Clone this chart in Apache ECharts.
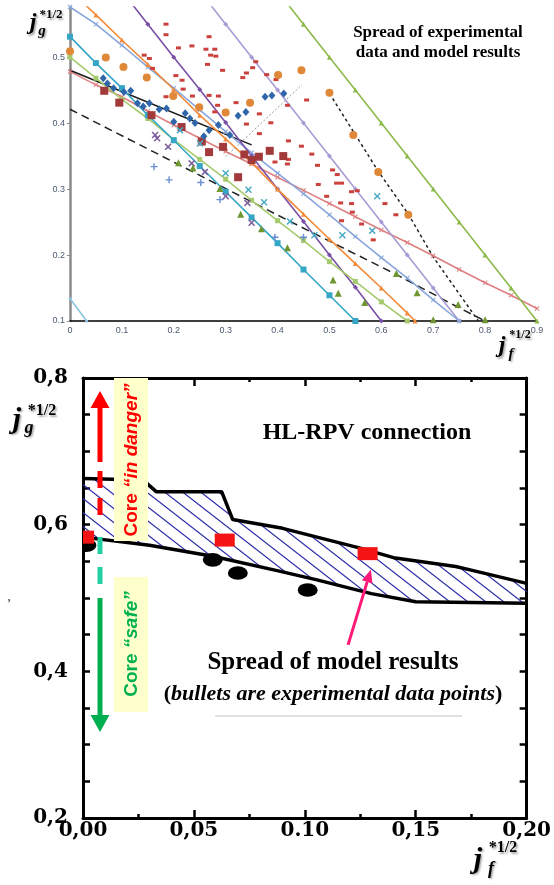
<!DOCTYPE html>
<html><head><meta charset="utf-8">
<style>html,body{margin:0;padding:0;background:#fff}#c{width:554px;height:885px}</style>
<script src="https://cdn.jsdelivr.net/npm/echarts@6/dist/echarts.min.js"></script>
</head><body><div id="c"></div>
<script>
// ---------- TOP CHART DATA ----------
const topXLabels = ['0','0.1','0.2','0.3','0.4','0.5','0.6','0.7','0.8','0.9'];
const topYTicks = [0.1,0.2,0.3,0.4,0.5];
const topYLabels = ['0.1','0.2','0.3','0.4','0.5'];

const tealSquares = [[0,0.531],[0.05,0.491],[0.1,0.453],[0.15,0.412],[0.2,0.374],[0.25,0.335],[0.3,0.296],[0.35,0.257],[0.4,0.218],[0.45,0.178],[0.5,0.139],[0.55,0.100]];
const lightGreenLine = [[0,0.500],[0.05,0.468],[0.1,0.436],[0.15,0.407],[0.2,0.375],[0.25,0.345],[0.3,0.315],[0.35,0.283],[0.4,0.252],[0.45,0.222],[0.5,0.190],[0.55,0.160],[0.6,0.129],[0.65,0.100]];
const orangeLine = [[0,0.601],[0.05,0.564],[0.1,0.526],[0.15,0.489],[0.2,0.451],[0.25,0.412],[0.3,0.376],[0.35,0.340],[0.4,0.300],[0.45,0.262],[0.5,0.224],[0.55,0.187],[0.6,0.150],[0.65,0.112],[0.665,0.100]];
const periwinkleLine = [[0,0.576],[0.05,0.550],[0.1,0.518],[0.15,0.485],[0.2,0.453],[0.25,0.420],[0.3,0.387],[0.35,0.355],[0.4,0.324],[0.45,0.293],[0.5,0.261],[0.55,0.228],[0.6,0.196],[0.65,0.165],[0.7,0.132],[0.75,0.100]];
const purpleLine = [[0.1,0.600],[0.15,0.550],[0.2,0.500],[0.25,0.451],[0.3,0.401],[0.35,0.350],[0.4,0.300],[0.45,0.251],[0.5,0.200],[0.55,0.151],[0.6,0.100]];
const lavenderLine = [[0.25,0.600],[0.3,0.550],[0.35,0.500],[0.4,0.450],[0.45,0.400],[0.5,0.350],[0.55,0.300],[0.6,0.250],[0.65,0.200],[0.7,0.150],[0.75,0.100]];
const greenLine = [[0.4,0.600],[0.45,0.550],[0.5,0.500],[0.55,0.450],[0.6,0.400],[0.65,0.350],[0.7,0.300],[0.75,0.250],[0.8,0.200],[0.85,0.150],[0.9,0.100]];
const pinkLine = [[0,0.478],[0.05,0.458],[0.1,0.440],[0.15,0.418],[0.2,0.397],[0.25,0.377],[0.3,0.357],[0.35,0.338],[0.4,0.318],[0.45,0.298],[0.5,0.278],[0.55,0.258],[0.6,0.238],[0.65,0.219],[0.7,0.199],[0.75,0.178],[0.8,0.158],[0.85,0.139],[0.9,0.119]];
const smallBlueLine = [[0,0.134],[0.032,0.100]];
const blackLine = [[0,0.480],[0.35,0.367]];
const blackDashed = [[0,0.421],[0.424,0.251],[0.63,0.170],[0.745,0.122],[0.80,0.100]];
const blackDotted = [[0.5,0.445],[0.594,0.327],[0.652,0.262],[0.70,0.197],[0.787,0.100]];
const grayDotted = [[0.30,0.349],[0.447,0.458]];

const orangeCircles = [[0,0.509],[0.069,0.4995],[0.103,0.485],[0.148,0.469],[0.199,0.441],[0.249,0.424],[0.3,0.416],[0.347,0.431],[0.401,0.473],[0.446,0.480],[0.5,0.446],[0.546,0.382],[0.594,0.326],[0.652,0.261]];
const blueDiamonds = [[0.064,0.468],[0.072,0.460],[0.084,0.453],[0.104,0.447],[0.117,0.449],[0.130,0.430],[0.141,0.425],[0.153,0.430],[0.172,0.421],[0.186,0.422],[0.200,0.402],[0.222,0.415],[0.231,0.407],[0.241,0.400],[0.258,0.380],[0.268,0.389],[0.286,0.397],[0.308,0.382],[0.324,0.411],[0.339,0.417],[0.376,0.440],[0.389,0.442],[0.412,0.445]];
const darkRedSquares = [[0.066,0.449],[0.095,0.431],[0.157,0.412],[0.215,0.394],[0.254,0.372],[0.268,0.356],[0.295,0.364],[0.336,0.3525],[0.35,0.344],[0.364,0.349],[0.385,0.358],[0.411,0.350],[0.324,0.318]];
const redDashes = [[0.185,0.550],[0.185,0.534],[0.143,0.503],[0.153,0.498],[0.209,0.514],[0.235,0.517],[0.268,0.531],[0.262,0.512],[0.279,0.512],[0.271,0.503],[0.281,0.5015],[0.265,0.489],[0.358,0.493],[0.352,0.484],[0.159,0.483],
  [0.204,0.472],[0.216,0.465],[0.218,0.4515],[0.236,0.441],[0.185,0.440],[0.268,0.442],[0.286,0.441],[0.2845,0.427],[0.320,0.431],[0.294,0.480],[0.340,0.476],[0.333,0.469],[0.379,0.4735],[0.397,0.466],[0.279,0.417],[0.340,0.3985],[0.365,0.414],[0.387,0.4005],[0.365,0.384],[0.419,0.427],[0.456,0.435],[0.421,0.373],[0.446,0.365],[0.466,0.353],[0.419,0.338],[0.421,0.345],[0.395,0.341],[0.477,0.336],[0.506,0.329],[0.515,0.322],
  [0.4785,0.307],[0.4946,0.289],[0.5138,0.309],[0.5234,0.309],[0.5427,0.296],[0.5536,0.2975],[0.5216,0.279],[0.5427,0.278],[0.607,0.278],[0.628,0.261],[0.5234,0.252],[0.562,0.247],[0.5844,0.223],[0.544,0.265]];
const purpleCrosses = [[0.164,0.382],[0.168,0.377],[0.189,0.364],[0.2345,0.339],[0.26,0.326],[0.30,0.289],[0.342,0.279],[0.35,0.249]];
const tealCrosses = [[0.212,0.389],[0.2505,0.369],[0.30,0.324],[0.344,0.299],[0.374,0.280],[0.424,0.251],[0.471,0.230],[0.525,0.230],[0.5825,0.237],[0.592,0.289]];
const bluePluses = [[0.162,0.334],[0.191,0.314],[0.252,0.310],[0.289,0.284],[0.395,0.227],[0.45,0.227]];
const greenTriangles = [[0.209,0.340],[0.237,0.332],[0.289,0.301],[0.329,0.262],[0.369,0.240],[0.419,0.211],[0.507,0.162],[0.517,0.142],[0.568,0.128],[0.629,0.172],[0.669,0.143],[0.748,0.125],[0.70,0.102],[0.80,0.102]];

// ---------- BOTTOM CHART DATA ----------
const bottomXLabels = ['0,00','0,05','0.10','0,15','0,20'];
const bottomYLabelValues = [0.2,0.4,0.6,0.8];
const bottomYLabels = ['0,2','0,4','0,6','0,8'];
const hatchUpper = [[0,0.663],[0.027,0.661],[0.033,0.645],[0.0625,0.645],[0.0675,0.607],[0.09,0.595],[0.125,0.568],[0.14,0.555],[0.168,0.543],[0.175,0.538],[0.2,0.520]];
const hatchLower = [[0,0.583],[0.03,0.572],[0.0585,0.557],[0.088,0.537],[0.105,0.525],[0.13,0.506],[0.15,0.495],[0.2,0.493]];
const modelSquares = [[0.0005,0.583],[0.0639,0.579],[0.1283,0.5605]];
const expBullets = [[0.0015,0.572],[0.0585,0.552],[0.0698,0.534],[0.1013,0.511]];
const pinkArrow = [[0.1195,0.436],[0.1298,0.539]];

// ---------- helpers ----------
const X_PATH = 'path://M0,1.5 L1.5,0 L5,3.5 L8.5,0 L10,1.5 L6.5,5 L10,8.5 L8.5,10 L5,6.5 L1.5,10 L0,8.5 L3.5,5 Z';
const PLUS_PATH = 'path://M4,0 H6 V4 H10 V6 H6 V10 H4 V6 H0 V4 H4 Z';
const SERIF = '"Liberation Serif", "Times New Roman", serif';
const WIDESERIF = '"DejaVu Serif", serif';
const SANS = '"Liberation Sans", Arial, sans-serif';
const SHADOW = { textShadowColor: 'rgba(0,0,0,0.35)', textShadowBlur: 2, textShadowOffsetX: 1.5, textShadowOffsetY: 1.5 };

function lineS(data, color, symbol, size, extra) {
  return Object.assign({
    type: 'line', xAxisIndex: 0, yAxisIndex: 0, data: data,
    symbol: symbol, symbolSize: size, showSymbol: symbol !== 'none',
    lineStyle: { color: color, width: 1.6 }, itemStyle: { color: color },
    clip: true, silent: true, animation: false, z: 2
  }, extra || {});
}
function scatS(data, color, symbol, size, extra) {
  return Object.assign({
    type: 'scatter', xAxisIndex: 0, yAxisIndex: 0, data: data,
    symbol: symbol, symbolSize: size, itemStyle: { color: color, opacity: 1 },
    silent: true, animation: false, z: 4
  }, extra || {});
}
function label(x, y, text, font) {
  return { type: 'text', x: x, y: y, z: 10, style: Object.assign({ text: text, textAlign: 'center', textVerticalAlign: 'middle', font: font, fill: '#000' }, SHADOW) };
}
function makeHatch() {
  const w = 18, h = 14;
  const cv = document.createElement('canvas'); cv.width = w; cv.height = h;
  const ctx = cv.getContext('2d');
  ctx.strokeStyle = '#2a2aa8'; ctx.lineWidth = 1.2;
  for (const k of [-1, 0, 1]) {
    ctx.beginPath(); ctx.moveTo(k * w - w, -h); ctx.lineTo(k * w + 2 * w, 2 * h); ctx.stroke();
  }
  return cv;
}
const hatchCanvas = makeHatch();

const chart = echarts.init(document.getElementById('c'), null, { renderer: 'canvas' });

const bottomAxisCommon = {
  type: 'value', min: 0, max: 0.2, interval: 0.05, gridIndex: 1,
  axisLine: { onZero: false, lineStyle: { color: '#000', width: 3 } },
  axisTick: { inside: true, length: 8, lineStyle: { color: '#000', width: 2.5 } },
  minorTick: { show: true, splitNumber: 2, length: 4, lineStyle: { color: '#000', width: 2.5 } },
  splitLine: { show: false }
};
const bottomYCommon = {
  type: 'value', min: 0.2, max: 0.8, interval: 0.05, gridIndex: 1,
  axisLine: { show: true, onZero: false, lineStyle: { color: '#000', width: 3 } },
  axisTick: { inside: true, length: 7, lineStyle: { color: '#000', width: 2.5 } },
  splitLine: { show: false }
};

const option = {
  backgroundColor: '#fff',
  animation: false,
  grid: [
    { left: 70, top: 7, width: 467, height: 314 },
    { left: 83, top: 378, width: 445, height: 440 }
  ],
  xAxis: [
    { type: 'value', min: 0, max: 0.9, interval: 0.1, gridIndex: 0,
      axisLine: { onZero: false, lineStyle: { color: '#000', width: 1.5 } },
      axisTick: { show: false }, splitLine: { show: false },
      axisLabel: { color: '#4e5a72', fontSize: 9, fontFamily: SANS, margin: 5,
        formatter: v => topXLabels[Math.round(v * 10)] } },
    Object.assign({}, bottomAxisCommon, { position: 'bottom',
      axisLabel: { color: '#000', fontSize: 20, fontWeight: 'bold', fontFamily: WIDESERIF, margin: 3,
        formatter: v => bottomXLabels[Math.round(v / 0.05)] } }),
    Object.assign({}, bottomAxisCommon, { position: 'top', axisLabel: { show: false } })
  ],
  yAxis: [
    { type: 'value', min: 0.1, max: 0.576, gridIndex: 0,
      axisLine: { show: true, onZero: false, lineStyle: { color: '#8a8a8a', width: 2.5 } },
      axisTick: { show: true, length: 3, customValues: topYTicks, lineStyle: { color: '#8a8a8a', width: 1 } },
      splitLine: { show: false },
      axisLabel: { customValues: topYTicks, color: '#4e5a72', fontSize: 9, fontFamily: SANS, margin: 5,
        formatter: v => topYLabels[Math.round(v * 10) - 1] } },
    Object.assign({}, bottomYCommon, { position: 'left',
      axisLabel: { customValues: bottomYLabelValues, color: '#000', fontSize: 20, fontWeight: 'bold', fontFamily: WIDESERIF, margin: 15,
        formatter: v => bottomYLabels[Math.round(v * 5) - 1] } }),
    Object.assign({}, bottomYCommon, { position: 'right', axisLabel: { show: false } })
  ],
  series: [
    // ---- top chart lines ----
    lineS(smallBlueLine, '#8cc3df', 'circle', 3),
    lineS(pinkLine, '#dd8080', X_PATH, 5),
    lineS(blackLine, '#1a1a1a', 'none', 0, { lineStyle: { color: '#1a1a1a', width: 1.6 } }),
    lineS(blackDashed, '#222', 'none', 0, { lineStyle: { color: '#222', width: 1.5, type: [8, 5] } }),
    lineS(blackDotted, '#222', 'none', 0, { lineStyle: { color: '#222', width: 1.5, type: [3, 3] } }),
    lineS(grayDotted, '#999', 'none', 0, { lineStyle: { color: '#9a9a9a', width: 1, type: [2, 2] } }),
    lineS(greenLine, '#8cba4a', 'triangle', 5),
    lineS(lavenderLine, '#a99bd5', 'diamond', 5),
    lineS(periwinkleLine, '#88a5dc', X_PATH, 5),
    lineS(purpleLine, '#7a4fa6', 'diamond', 5),
    lineS(orangeLine, '#f28b3c', 'triangle', 5),
    lineS(lightGreenLine, '#a6cb6e', 'rect', 5),
    lineS(tealSquares, '#36a6c6', 'rect', 6),
    // ---- top chart scatter ----
    scatS(redDashes, '#c9403c', 'rect', [5, 3]),
    scatS(orangeCircles, '#df8838', 'circle', 8),
    scatS(darkRedSquares, '#a2393a', 'rect', 8),
    scatS(blueDiamonds, '#2f66aa', 'diamond', [7, 8]),
    scatS(purpleCrosses, '#7d5c9e', X_PATH, 7),
    scatS(tealCrosses, '#49abc6', X_PATH, 7),
    scatS(bluePluses, '#6a8fd0', PLUS_PATH, 7),
    scatS(greenTriangles, '#6f9630', 'triangle', 7),
    // ---- bottom chart ----
    { type: 'custom', xAxisIndex: 1, yAxisIndex: 1, data: [[0.1, 0.6]], silent: true, clip: true, z: 2,
      renderItem: function (params, api) {
        const pts = hatchUpper.map(p => api.coord(p)).concat(hatchLower.slice().reverse().map(p => api.coord(p)));
        return { type: 'polygon', shape: { points: pts }, style: { fill: { image: hatchCanvas, repeat: 'repeat' }, stroke: null } };
      } },
    { type: 'line', xAxisIndex: 1, yAxisIndex: 1, data: hatchUpper, symbol: 'none', silent: true, z: 3,
      lineStyle: { color: '#000', width: 3.5 } },
    { type: 'line', xAxisIndex: 1, yAxisIndex: 1, data: hatchLower, symbol: 'none', silent: true, z: 3,
      lineStyle: { color: '#000', width: 3.5 } },
    { type: 'custom', xAxisIndex: 1, yAxisIndex: 1, data: expBullets, silent: true, clip: true, z: 4,
      renderItem: function (params, api) {
        const c = api.coord([api.value(0), api.value(1)]);
        return { type: 'circle', x: c[0], y: c[1], scaleY: 0.68, shape: { cx: 0, cy: 0, r: 10 }, style: { fill: '#000' } };
      } },
    { type: 'custom', xAxisIndex: 1, yAxisIndex: 1, data: modelSquares, silent: true, clip: true, z: 5,
      renderItem: function (params, api) {
        const c = api.coord([api.value(0), api.value(1)]);
        const cs = params.coordSys;
        const r = echarts.graphic.clipRectByRect({ x: c[0] - 10, y: c[1] - 6.5, width: 20, height: 13 },
          { x: cs.x, y: cs.y, width: cs.width, height: cs.height });
        return r ? { type: 'rect', shape: r, style: { fill: '#f51414' } } : null;
      } },
    { type: 'custom', xAxisIndex: 1, yAxisIndex: 1, data: [pinkArrow[1]], silent: true, z: 6,
      renderItem: function (params, api) {
        const p0 = api.coord(pinkArrow[0]), p1 = api.coord(pinkArrow[1]);
        const dx = p1[0] - p0[0], dy = p1[1] - p0[1], L = Math.sqrt(dx * dx + dy * dy);
        const ux = dx / L, uy = dy / L, hl = 13, hw = 5.5;
        const bx = p1[0] - ux * hl, by = p1[1] - uy * hl;
        return { type: 'group', children: [
          { type: 'line', shape: { x1: p0[0], y1: p0[1], x2: bx, y2: by }, style: { stroke: '#ff1a78', lineWidth: 3 } },
          { type: 'polygon', shape: { points: [[p1[0], p1[1]], [bx - uy * hw, by + ux * hw], [bx + uy * hw, by - ux * hw]] }, style: { fill: '#ff1a78' } }
        ] };
      } }
  ],
  graphic: [
    // top title
    { type: 'text', x: 438, y: 43, z: 10, style: { text: 'Spread of experimental\ndata and model results', textAlign: 'center', textVerticalAlign: 'middle',
      font: 'bold 17px ' + SERIF, fill: '#000', lineHeight: 20 } },
    // top y label
    label(33, 23, 'j', 'italic bold 24px ' + SERIF),
    label(51, 15, '*1/2', 'bold 13px ' + SERIF),
    label(42, 31, 'g', 'italic bold 15px ' + SERIF),
    // top x label
    label(502, 346, 'j', 'italic bold 24px ' + SERIF),
    label(520, 335, '*1/2', 'bold 12px ' + SERIF),
    label(511, 354, 'f', 'italic bold 15px ' + SERIF),
    // bottom y label
    label(17, 420, 'j', 'italic bold 30px ' + SERIF),
    label(42, 411, '*1/2', 'bold 16px ' + SERIF),
    label(29, 428, 'g', 'italic bold 18px ' + SERIF),
    // bottom x label
    label(478, 860, 'j', 'italic bold 30px ' + SERIF),
    label(503, 848, '*1/2', 'bold 16px ' + SERIF),
    label(491, 869, 'f', 'italic bold 18px ' + SERIF),
    // bottom annotations
    { type: 'text', x: 367, y: 433, z: 10, style: { text: 'HL-RPV connection', textAlign: 'center', textVerticalAlign: 'middle', font: 'bold 24px ' + SERIF, fill: '#000' } },
    { type: 'text', x: 333, y: 663, z: 10, style: { text: 'Spread of model results', textAlign: 'center', textVerticalAlign: 'middle', font: 'bold 25px ' + SERIF, fill: '#000' } },
    { type: 'text', x: 333, y: 694, z: 10, style: { text: '{p|(}{i|bullets are experimental data points}{p|)}', textAlign: 'center', textVerticalAlign: 'middle',
      rich: { p: { font: 'bold 22px ' + SERIF, fill: '#000' }, i: { font: 'italic bold 22px ' + SERIF, fill: '#000' } } } },
    { type: 'line', z: 10, shape: { x1: 215, y1: 716, x2: 462, y2: 716 }, style: { stroke: '#c4c4c4', lineWidth: 1 } },
    // core boxes
    { type: 'rect', z: 10, shape: { x: 114, y: 378, width: 34, height: 163 }, style: { fill: '#ffffcc' } },
    { type: 'text', z: 11, x: 132, y: 460, rotation: Math.PI / 2, style: { text: '{a|Core }{b|“in danger”}', textAlign: 'center', textVerticalAlign: 'middle',
      rich: { a: { font: 'bold 19px ' + SANS, fill: '#ff0000' }, b: { font: 'italic bold 19px ' + SANS, fill: '#ff0000' } } } },
    { type: 'rect', z: 10, shape: { x: 114, y: 577, width: 34, height: 135 }, style: { fill: '#ffffcc' } },
    { type: 'text', z: 11, x: 132, y: 644, rotation: Math.PI / 2, style: { text: '{a|Core }{b|“safe”}', textAlign: 'center', textVerticalAlign: 'middle',
      rich: { a: { font: 'bold 19px ' + SANS, fill: '#00b050' }, b: { font: 'italic bold 19px ' + SANS, fill: '#00b050' } } } },
    // red arrow
    { type: 'polygon', z: 10, shape: { points: [[100, 391], [90.5, 408], [109.5, 408]] }, style: { fill: '#ff0000' } },
    { type: 'rect', z: 10, shape: { x: 97.5, y: 407, width: 5, height: 55 }, style: { fill: '#ff0000' } },
    { type: 'rect', z: 10, shape: { x: 97.5, y: 471, width: 5, height: 17 }, style: { fill: '#ff0000' } },
    { type: 'rect', z: 10, shape: { x: 97.5, y: 498, width: 5, height: 17 }, style: { fill: '#ff0000' } },
    // teal dashes + green arrow
    { type: 'rect', z: 10, shape: { x: 97.5, y: 537, width: 5, height: 17 }, style: { fill: '#22d0a2' } },
    { type: 'rect', z: 10, shape: { x: 97.5, y: 567, width: 5, height: 17 }, style: { fill: '#22d0a2' } },
    { type: 'rect', z: 10, shape: { x: 97.5, y: 598, width: 5, height: 118 }, style: { fill: '#00b050' } },
    { type: 'polygon', z: 10, shape: { points: [[90.5, 715], [109.5, 715], [100, 732]] }, style: { fill: '#00b050' } },
    // stray mark
    { type: 'text', z: 10, x: 9, y: 604, style: { text: '’', textAlign: 'center', textVerticalAlign: 'middle', font: 'bold 12px ' + SERIF, fill: '#555' } }
  ]
};
chart.setOption(option);
</script></body></html>
